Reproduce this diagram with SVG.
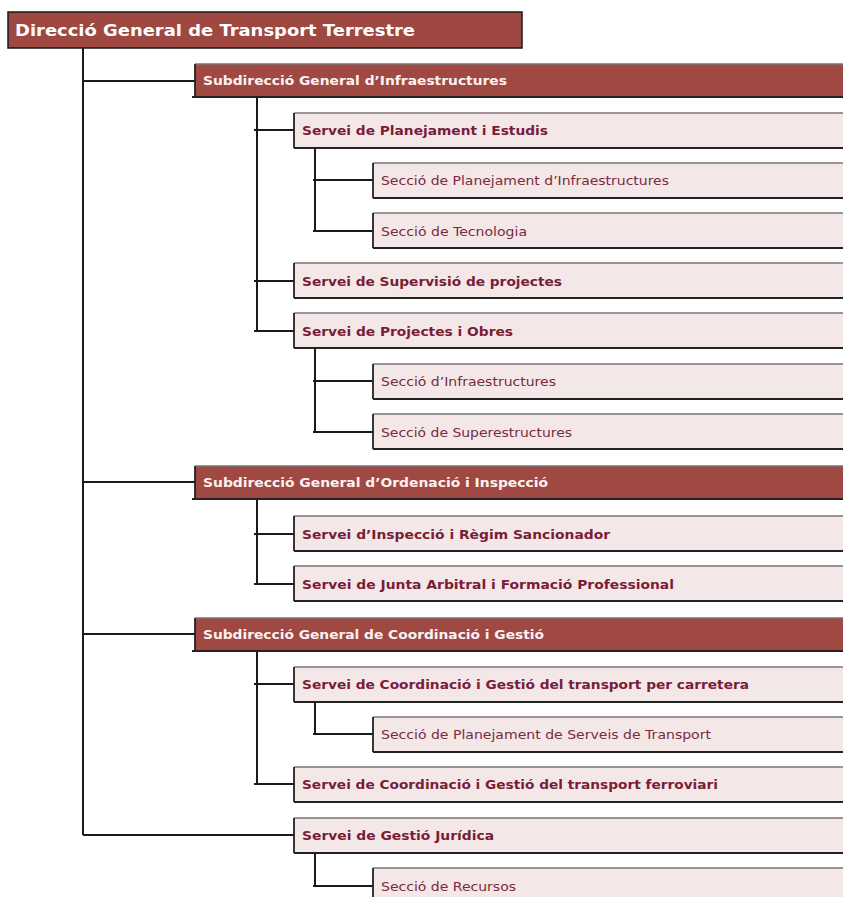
<svg xmlns="http://www.w3.org/2000/svg" width="843" height="897" viewBox="0 0 843 897">
<style>
.conn line{stroke:#1a1a1a;stroke-width:2;fill:none}
.top rect{fill:#9f4741;stroke:#1a1a1a;stroke-width:1.5}
.sub rect{fill:#a04943}
.box rect{fill:#f4e7e7}
.tl{stroke:#7d7373;stroke-width:1.3}
.bl{stroke:#222;stroke-width:2}
.ll{stroke:#222;stroke-width:1.8}
.ttop{font-family:"DejaVu Sans","Liberation Sans",sans-serif;font-weight:bold;font-size:16.5px;fill:#fff}
.tsub{font-family:"DejaVu Sans","Liberation Sans",sans-serif;font-weight:bold;font-size:12px;fill:#fbf3f3}
.tser{font-family:"DejaVu Sans","Liberation Sans",sans-serif;font-weight:bold;font-size:12px;fill:#7a1c38}
.tsec{font-family:"DejaVu Sans","Liberation Sans",sans-serif;font-size:12px;fill:#7a2a42}
</style>
<g id="connectors" class="conn">
<line x1="83" y1="48" x2="83" y2="835"/>
<line x1="83" y1="81" x2="195" y2="81"/>
<line x1="83" y1="482" x2="195" y2="482"/>
<line x1="83" y1="634" x2="195" y2="634"/>
<line x1="83" y1="835" x2="294" y2="835"/>
<line x1="257" y1="97" x2="257" y2="331"/>
<line x1="254" y1="130" x2="294" y2="130"/>
<line x1="254" y1="281" x2="294" y2="281"/>
<line x1="254" y1="331" x2="294" y2="331"/>
<line x1="315" y1="148" x2="315" y2="231"/>
<line x1="313" y1="180" x2="373" y2="180"/>
<line x1="313" y1="231" x2="373" y2="231"/>
<line x1="315" y1="348" x2="315" y2="432"/>
<line x1="313" y1="381" x2="373" y2="381"/>
<line x1="313" y1="432" x2="373" y2="432"/>
<line x1="257" y1="499" x2="257" y2="584"/>
<line x1="254" y1="534" x2="294" y2="534"/>
<line x1="254" y1="584" x2="294" y2="584"/>
<line x1="257" y1="651" x2="257" y2="784"/>
<line x1="254" y1="684" x2="294" y2="684"/>
<line x1="254" y1="784" x2="294" y2="784"/>
<line x1="315" y1="702" x2="315" y2="734"/>
<line x1="313" y1="734" x2="373" y2="734"/>
<line x1="315" y1="853" x2="315" y2="886"/>
<line x1="313" y1="886" x2="373" y2="886"/>
</g>

<g id="n-direccio" class="top">
<rect x="8" y="12" width="514" height="36"/>
<text class="ttop" x="15" y="36" textLength="400" lengthAdjust="spacingAndGlyphs">Direcció General de Transport Terrestre</text>
</g>

<g id="n-sub-infra" class="sub">
<rect x="195" y="64" width="650" height="33"/>
<line class="tl" x1="195" y1="64" x2="845" y2="64"/>
<line class="bl" x1="192" y1="97" x2="845" y2="97"/>
<line class="ll" x1="195" y1="64" x2="195" y2="97"/>
<text class="tsub" x="203" y="85" textLength="304" lengthAdjust="spacingAndGlyphs">Subdirecció General d’Infraestructures</text>
</g>

<g id="n-serv-plan" class="box">
<rect x="294" y="113" width="551" height="35"/>
<line class="tl" x1="294" y1="113" x2="845" y2="113"/>
<line class="bl" x1="294" y1="148" x2="845" y2="148"/>
<line class="ll" x1="294" y1="113" x2="294" y2="148"/>
<text class="tser" x="302" y="135" textLength="246" lengthAdjust="spacingAndGlyphs">Servei de Planejament i Estudis</text>
</g>

<g id="n-sec-plan-infra" class="box">
<rect x="373" y="163" width="472" height="35"/>
<line class="tl" x1="373" y1="163" x2="845" y2="163"/>
<line class="bl" x1="373" y1="198" x2="845" y2="198"/>
<line class="ll" x1="373" y1="163" x2="373" y2="198"/>
<text class="tsec" x="381" y="185" textLength="288" lengthAdjust="spacingAndGlyphs">Secció de Planejament d’Infraestructures</text>
</g>

<g id="n-sec-tecno" class="box">
<rect x="373" y="213" width="472" height="35"/>
<line class="tl" x1="373" y1="213" x2="845" y2="213"/>
<line class="bl" x1="373" y1="248" x2="845" y2="248"/>
<line class="ll" x1="373" y1="213" x2="373" y2="248"/>
<text class="tsec" x="381" y="236" textLength="146" lengthAdjust="spacingAndGlyphs">Secció de Tecnologia</text>
</g>

<g id="n-serv-superv" class="box">
<rect x="294" y="263" width="551" height="35"/>
<line class="tl" x1="294" y1="263" x2="845" y2="263"/>
<line class="bl" x1="294" y1="298" x2="845" y2="298"/>
<line class="ll" x1="294" y1="263" x2="294" y2="298"/>
<text class="tser" x="302" y="286" textLength="260" lengthAdjust="spacingAndGlyphs">Servei de Supervisió de projectes</text>
</g>

<g id="n-serv-proj" class="box">
<rect x="294" y="313" width="551" height="35"/>
<line class="tl" x1="294" y1="313" x2="845" y2="313"/>
<line class="bl" x1="294" y1="348" x2="845" y2="348"/>
<line class="ll" x1="294" y1="313" x2="294" y2="348"/>
<text class="tser" x="302" y="336" textLength="211" lengthAdjust="spacingAndGlyphs">Servei de Projectes i Obres</text>
</g>

<g id="n-sec-infra" class="box">
<rect x="373" y="364" width="472" height="35"/>
<line class="tl" x1="373" y1="364" x2="845" y2="364"/>
<line class="bl" x1="373" y1="399" x2="845" y2="399"/>
<line class="ll" x1="373" y1="364" x2="373" y2="399"/>
<text class="tsec" x="381" y="386" textLength="175" lengthAdjust="spacingAndGlyphs">Secció d’Infraestructures</text>
</g>

<g id="n-sec-super" class="box">
<rect x="373" y="414" width="472" height="35"/>
<line class="tl" x1="373" y1="414" x2="845" y2="414"/>
<line class="bl" x1="373" y1="449" x2="845" y2="449"/>
<line class="ll" x1="373" y1="414" x2="373" y2="449"/>
<text class="tsec" x="381" y="437" textLength="191" lengthAdjust="spacingAndGlyphs">Secció de Superestructures</text>
</g>

<g id="n-sub-orden" class="sub">
<rect x="195" y="466" width="650" height="33"/>
<line class="tl" x1="195" y1="466" x2="845" y2="466"/>
<line class="bl" x1="192" y1="499" x2="845" y2="499"/>
<line class="ll" x1="195" y1="466" x2="195" y2="499"/>
<text class="tsub" x="203" y="487" textLength="345" lengthAdjust="spacingAndGlyphs">Subdirecció General d’Ordenació i Inspecció</text>
</g>

<g id="n-serv-insp" class="box">
<rect x="294" y="516" width="551" height="35"/>
<line class="tl" x1="294" y1="516" x2="845" y2="516"/>
<line class="bl" x1="294" y1="551" x2="845" y2="551"/>
<line class="ll" x1="294" y1="516" x2="294" y2="551"/>
<text class="tser" x="302" y="539" textLength="308" lengthAdjust="spacingAndGlyphs">Servei d’Inspecció i Règim Sancionador</text>
</g>

<g id="n-serv-junta" class="box">
<rect x="294" y="566" width="551" height="35"/>
<line class="tl" x1="294" y1="566" x2="845" y2="566"/>
<line class="bl" x1="294" y1="601" x2="845" y2="601"/>
<line class="ll" x1="294" y1="566" x2="294" y2="601"/>
<text class="tser" x="302" y="589" textLength="372" lengthAdjust="spacingAndGlyphs">Servei de Junta Arbitral i Formació Professional</text>
</g>

<g id="n-sub-coord" class="sub">
<rect x="195" y="618" width="650" height="33"/>
<line class="tl" x1="195" y1="618" x2="845" y2="618"/>
<line class="bl" x1="192" y1="651" x2="845" y2="651"/>
<line class="ll" x1="195" y1="618" x2="195" y2="651"/>
<text class="tsub" x="203" y="639" textLength="341" lengthAdjust="spacingAndGlyphs">Subdirecció General de Coordinació i Gestió</text>
</g>

<g id="n-serv-carr" class="box">
<rect x="294" y="667" width="551" height="35"/>
<line class="tl" x1="294" y1="667" x2="845" y2="667"/>
<line class="bl" x1="294" y1="702" x2="845" y2="702"/>
<line class="ll" x1="294" y1="667" x2="294" y2="702"/>
<text class="tser" x="302" y="689" textLength="447" lengthAdjust="spacingAndGlyphs">Servei de Coordinació i Gestió del transport per carretera</text>
</g>

<g id="n-sec-plan-serv" class="box">
<rect x="373" y="717" width="472" height="35"/>
<line class="tl" x1="373" y1="717" x2="845" y2="717"/>
<line class="bl" x1="373" y1="752" x2="845" y2="752"/>
<line class="ll" x1="373" y1="717" x2="373" y2="752"/>
<text class="tsec" x="381" y="739" textLength="330" lengthAdjust="spacingAndGlyphs">Secció de Planejament de Serveis de Transport</text>
</g>

<g id="n-serv-ferro" class="box">
<rect x="294" y="767" width="551" height="35"/>
<line class="tl" x1="294" y1="767" x2="845" y2="767"/>
<line class="bl" x1="294" y1="802" x2="845" y2="802"/>
<line class="ll" x1="294" y1="767" x2="294" y2="802"/>
<text class="tser" x="302" y="789" textLength="416" lengthAdjust="spacingAndGlyphs">Servei de Coordinació i Gestió del transport ferroviari</text>
</g>

<g id="n-serv-jur" class="box">
<rect x="294" y="818" width="551" height="35"/>
<line class="tl" x1="294" y1="818" x2="845" y2="818"/>
<line class="bl" x1="294" y1="853" x2="845" y2="853"/>
<line class="ll" x1="294" y1="818" x2="294" y2="853"/>
<text class="tser" x="302" y="840" textLength="192" lengthAdjust="spacingAndGlyphs">Servei de Gestió Jurídica</text>
</g>

<g id="n-sec-rec" class="box">
<rect x="373" y="868" width="472" height="35"/>
<line class="tl" x1="373" y1="868" x2="845" y2="868"/>
<line class="ll" x1="373" y1="868" x2="373" y2="899"/>
<text class="tsec" x="381" y="891" textLength="135" lengthAdjust="spacingAndGlyphs">Secció de Recursos</text>
</g>
</svg>
